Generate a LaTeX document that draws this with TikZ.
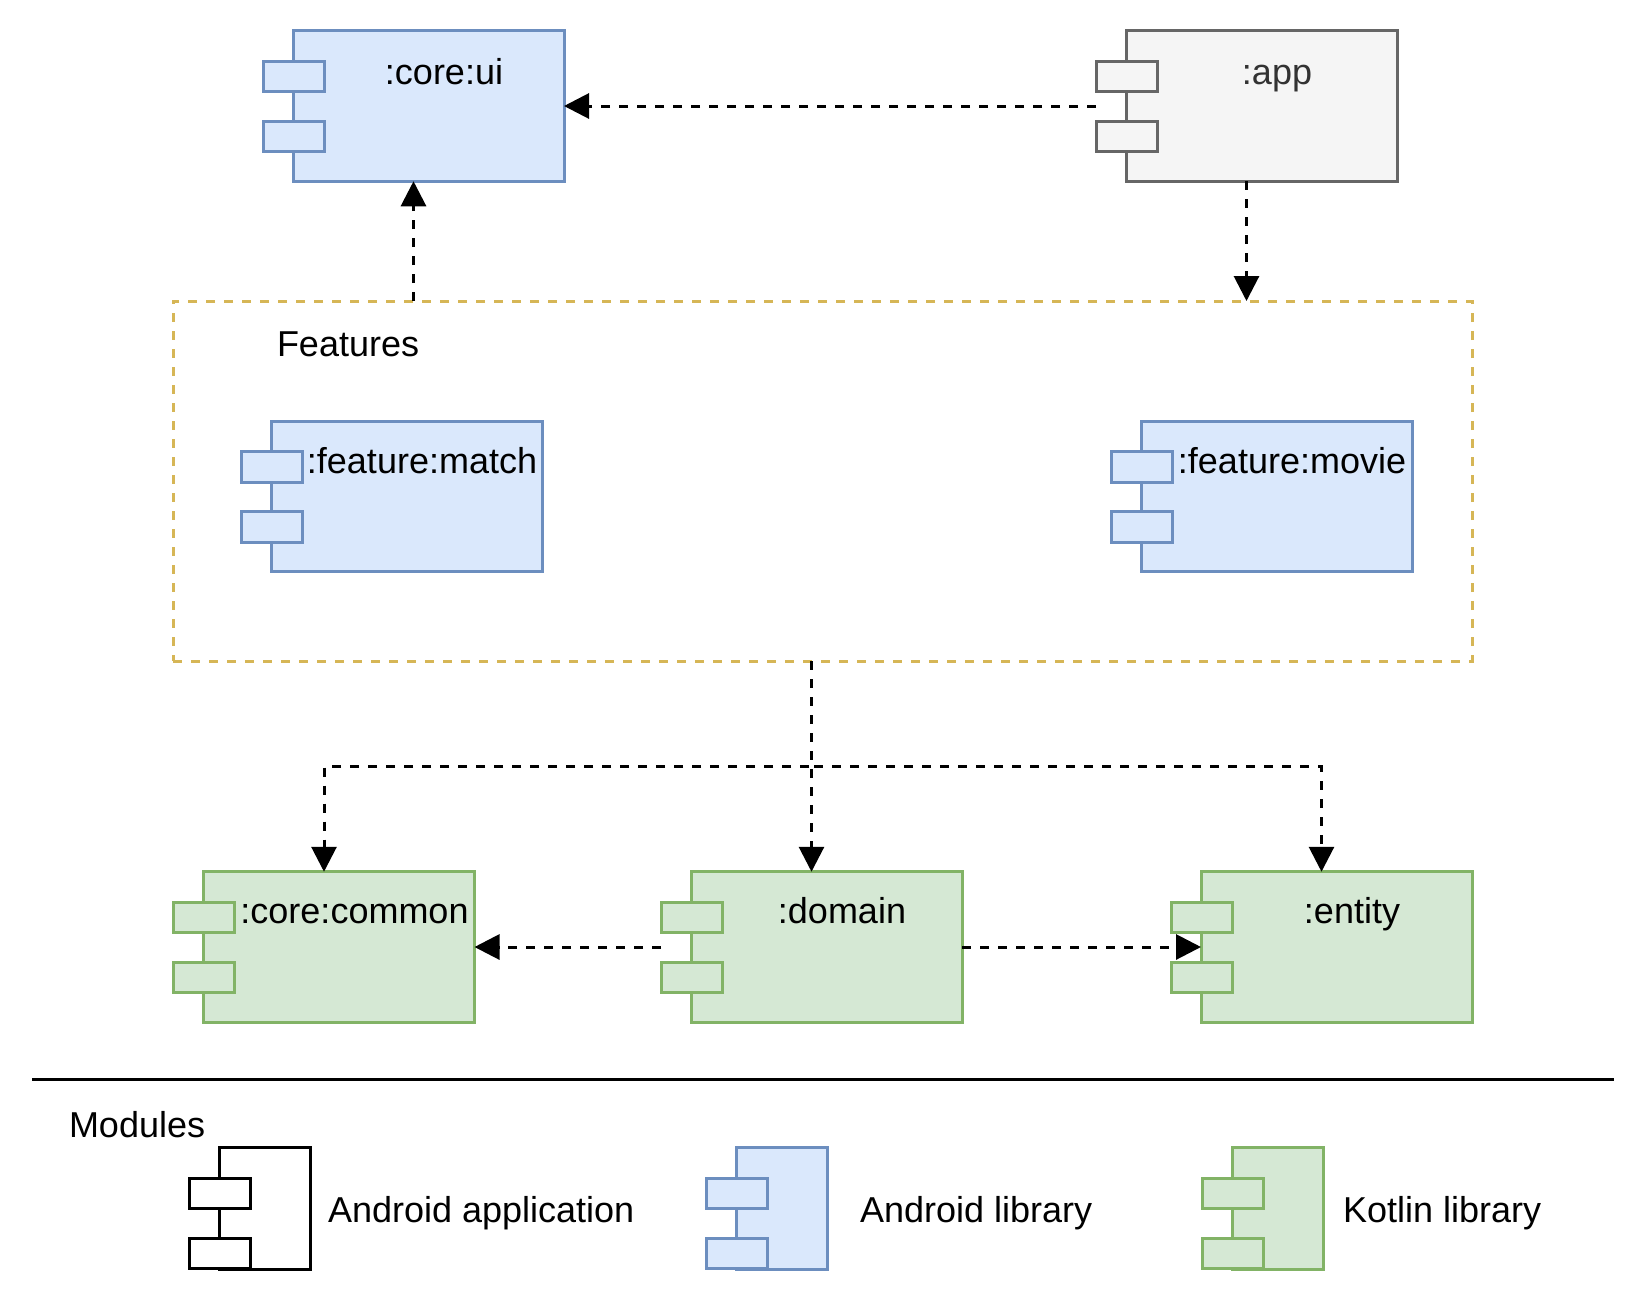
\documentclass[tikz,border=0pt]{standalone}
\usepackage{fontspec}
\setmainfont{Liberation Sans}
\usetikzlibrary{arrows.meta,calc}
\definecolor{libfill}{HTML}{DAE8FC}
\definecolor{libline}{HTML}{6C8EBF}
\definecolor{ktfill}{HTML}{D5E8D4}
\definecolor{ktline}{HTML}{82B366}
\definecolor{appfill}{HTML}{F5F5F5}
\definecolor{appline}{HTML}{666666}
\definecolor{apptext}{HTML}{333333}
\definecolor{grpline}{HTML}{D6B656}
\newcommand\modtabs[2]{%
  \draw[#2] ($(#1.north west)+(-30,30.5)$) rectangle ++(61,30.5);
  \draw[#2] ($(#1.north west)+(-30,90.5)$) rectangle ++(61,30.5);}
\tikzset{
  modbox/.style={draw, rectangle, line width=3pt, outer sep=0pt, inner sep=0pt,
    minimum width=271pt, minimum height=150.5pt},
  libbox/.style={modbox, draw=libline, fill=libfill},
  ktbox/.style={modbox, draw=ktline, fill=ktfill},
  appbox/.style={modbox, draw=appline, fill=appfill},
  libtab/.style={line width=3pt, draw=libline, fill=libfill},
  kttab/.style={line width=3pt, draw=ktline, fill=ktfill},
  apptab/.style={line width=3pt, draw=appline, fill=appfill},
  blacktab/.style={line width=3pt, draw=black, fill=white},
  legbox/.style={draw, rectangle, line width=3pt, outer sep=0pt, inner sep=0pt,
    minimum width=91pt, minimum height=121.5pt},
  grp/.style={draw=grpline, line width=3pt, dash pattern=on 9pt off 9pt, rectangle,
    outer sep=0pt, inner sep=0pt, minimum width=1299pt, minimum height=360pt},
  txt/.style={font=\fontsize{36}{43}\selectfont, inner sep=0pt, outer sep=0pt},
  dep/.style={line width=3pt, dash pattern=on 9pt off 9pt,
    -{Triangle[length=25pt,width=25pt]}},
}
\begin{document}
\begin{tikzpicture}[x=1pt,y=-1pt]
\useasboundingbox (0,0) rectangle (1647,1299);

% group
\node[grp] (features) at (822.5,481) {};
\node[txt, anchor=base west] (featlbl) at (277,356.5) {Features};

% modules
\node[libbox] (coreui) at (428.5,106) {};
\modtabs{coreui}{libtab}
\node[txt, anchor=base] (coreuilbl) at (444,84) {:core:ui};

\node[appbox] (app) at (1261.5,106) {};
\modtabs{app}{apptab}
\node[txt, anchor=base, text=apptext] (applbl) at (1277,84) {:app};

\node[libbox] (fmatch) at (406.5,496.5) {};
\modtabs{fmatch}{libtab}
\node[txt, anchor=base] (fmatchlbl) at (422,473) {:feature:match};

\node[libbox] (fmovie) at (1276.5,496.5) {};
\modtabs{fmovie}{libtab}
\node[txt, anchor=base] (fmovielbl) at (1292,473) {:feature:movie};

\node[ktbox] (common) at (339,947) {};
\modtabs{common}{kttab}
\node[txt, anchor=base] (commonlbl) at (354.5,923.5) {:core:common};

\node[ktbox] (domain) at (826.5,947) {};
\modtabs{domain}{kttab}
\node[txt, anchor=base] (domainlbl) at (842,923.5) {:domain};

\node[ktbox] (entity) at (1336.5,947) {};
\modtabs{entity}{kttab}
\node[txt, anchor=base] (entitylbl) at (1352,923.5) {:entity};

% connector helper coordinates
\coordinate (cuix) at ($(coreui.south)+(-15,0)$);
\coordinate (appx) at ($(app.south)+(-15,0)$);
\coordinate (comx) at ($(common.north)+(-15,0)$);
\coordinate (domx) at ($(domain.north)+(-15,0)$);
\coordinate (entx) at ($(entity.north)+(-15,0)$);
\coordinate (split) at (811.5,766.5);
\coordinate (appl) at ($(app.west)+(-30,0)$);
\coordinate (doml) at ($(domain.west)+(-30,0)$);

% connectors
\draw[dep] (appl) -- (coreui.east);
\draw[dep] (cuix |- features.north) -- (cuix);
\draw[dep] (appx) -- (appx |- features.north);
\draw[dep] (domx |- features.south) -- (domx);
\draw[dep] (domx |- features.south) -- (split) -| (comx);
\draw[dep] (domx |- features.south) -- (split) -| (entx);
\draw[dep] (doml) -- (common.east);
\draw[dep] (domain.east) -- (entity.west);

% separator
\coordinate (sepl) at (32,1079);
\coordinate (sepr) at (1614,1079);
\draw[line width=3pt] (sepl) -- (sepr);

% legend
\node[txt, anchor=base west] (modlbl) at (69,1137) {Modules};

\node[legbox, draw=black, fill=white] (legapp) at (264.5,1208.25) {};
\modtabs{legapp}{blacktab}
\node[txt, anchor=base west] (legapplbl) at (328,1222) {Android application};

\node[legbox, draw=libline, fill=libfill] (leglib) at (781.5,1208.25) {};
\modtabs{leglib}{libtab}
\node[txt, anchor=base west] (legliblbl) at (860,1222) {Android library};

\node[legbox, draw=ktline, fill=ktfill] (legkt) at (1277.5,1208.25) {};
\modtabs{legkt}{kttab}
\node[txt, anchor=base west] (legktlbl) at (1343,1222) {Kotlin library};
\end{tikzpicture}
\end{document}
